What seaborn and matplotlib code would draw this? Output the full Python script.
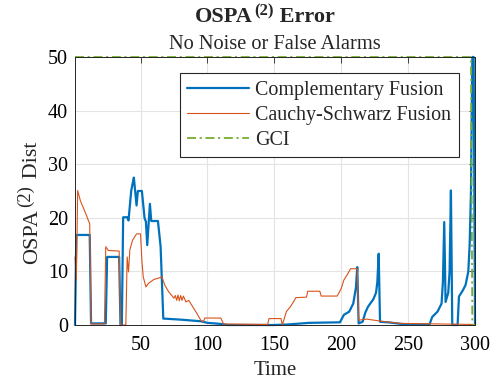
import matplotlib
matplotlib.use("Agg")
import matplotlib.pyplot as plt
from matplotlib.transforms import IdentityTransform
import seaborn as sns
import pandas as pd

# ---------------- data (breakpoints) ----------------
comp_t = [1, 2, 12, 13, 24, 25, 34, 35, 36, 37, 40, 41, 43, 44, 45, 47, 48, 51, 53, 54,
          55, 57, 58, 63, 65, 67, 80, 95, 100, 110, 115, 150, 160, 176, 199, 202, 206,
          209, 211, 212, 213, 216, 218, 220, 224, 226, 227, 228, 229, 235, 245, 250,
          266, 268, 272, 275, 276, 277, 278, 280, 281, 282, 283, 287, 288, 291, 293,
          295, 296, 297, 298, 299, 300]
comp_v = [0, 16.8, 16.8, 0.3, 0.3, 12.7, 12.7, 0, 0, 20.1, 20.1, 19.5, 25, 26.3, 27.5,
          22.3, 25, 25, 19.9, 19.3, 14.9, 22.6, 19.4, 19.4, 14.6, 1.2, 1.0, 0.7, 0.4,
          0.2, 0, 0, 0.1, 0.4, 0.5, 1.9, 2.5, 4, 7, 10.8, 0.3, 0.6, 2.3, 3.4, 4.8, 6,
          8, 13.3, 0.6, 0.5, 0.2, 0.1, 0.1, 1.5, 2.5, 4, 8, 19.2, 4.3, 6, 10, 25.1, 0,
          0, 5.3, 6.5, 7.5, 10, 15, 25, 50, 50, 0]

cs_t = [1, 2, 3, 5, 9, 11, 12, 13, 23, 24, 26, 34, 35, 39, 40, 41, 42, 44, 47, 50, 51,
        52, 54, 56, 60, 64, 66, 68, 71, 75, 76, 77, 78, 79, 80, 81, 82, 84, 86, 89, 92,
        95, 97, 98, 110, 112, 145, 146, 155, 156, 159, 162, 165, 166, 174, 175, 184,
        185, 197, 200, 202, 205, 207, 212, 213, 219, 230, 244, 272, 300]
cs_v = [12.7, 8.4, 25.1, 23.2, 20.8, 19.5, 18.9, 0.2, 0.2, 14.6, 13.9, 13.8, 0, 0, 12.7,
        9.9, 14, 15.8, 17, 17, 12, 9, 7.1, 7.8, 8.5, 8.8, 9, 7.5, 6.2, 5.0, 5.5, 4.6,
        5.6, 4.5, 5.5, 4.6, 5.4, 4.3, 4.6, 3.4, 2.2, 0.9, 0.6, 1.3, 1.3, 0.2, 0.1, 1.2,
        1.2, 0, 2.5, 3.4, 4.6, 5.1, 5.2, 6.3, 6.3, 5.4, 5.4, 6.8, 8.4, 9.6, 10.5, 10.5,
        0.9, 1.1, 0.7, 0.3, 0.2, 0.1]

gci_t = [1, 297, 298, 300]
gci_v = [50, 50, 0, 0]

labels = ["Complementary Fusion", "Cauchy-Schwarz Fusion", "GCI"]
colors = ["#0072BD", "#D95319", "#77AC30"]

x_ticks = [50, 100, 150, 200, 250, 300]
y_ticks = [0, 10, 20, 30, 40, 50]

# ---------------- style ----------------
sns.set_theme(style="white")
plt.rcParams["font.family"] = ["Liberation Serif", "DejaVu Serif"]

W, H = 496, 381
fig = plt.figure(figsize=(W / 100, H / 100), dpi=100)
ax = fig.add_axes([75 / W, 1 - 325 / H, 400 / W, 268 / H])

df_c = pd.DataFrame({"t": comp_t, "v": comp_v})
df_s = pd.DataFrame({"t": cs_t, "v": cs_v})
df_g = pd.DataFrame({"t": gci_t, "v": gci_v})

sns.lineplot(data=df_c, x="t", y="v", ax=ax, sort=False, estimator=None,
             color=colors[0], linewidth=1.6, label=labels[0])
sns.lineplot(data=df_s, x="t", y="v", ax=ax, sort=False, estimator=None,
             color=colors[1], linewidth=0.8, label=labels[1])
sns.lineplot(data=df_g, x="t", y="v", ax=ax, sort=False, estimator=None,
             color=colors[2], linewidth=1.3, label=labels[2],
             linestyle=(0, (5, 2, 1.2, 2)))
for ln in ax.lines:
    ln.set_clip_on(False)

ax.set_xlim(1, 300)
ax.set_ylim(0, 50)
ax.set_xticks(x_ticks)
ax.set_yticks(y_ticks)
ax.grid(True, color="#e3e3e3", linewidth=0.8)
ax.set_axisbelow(True)
for s in ax.spines.values():
    s.set_color("#262626")
    s.set_linewidth(0.7)
ax.tick_params(direction="in", length=4, width=0.6, colors="#262626",
               labelsize=14.5, top=True, right=True, labelcolor="black")
ax.tick_params(axis="x", pad=8)
ax.tick_params(axis="y", pad=5)
ax.set_xlabel("Time", fontsize=15, labelpad=4)
ax.set_ylabel("")

leg = ax.legend(loc="upper right", fontsize=14.4, frameon=True, fancybox=False,
                edgecolor="#262626", framealpha=1, handlelength=3.1,
                handletextpad=0.3, borderpad=0.38, labelspacing=0.3,
                borderaxespad=0.8)
leg.get_frame().set_linewidth(0.8)

renderer = fig.canvas.get_renderer()
ident = IdentityTransform()


def text_width(s, size, weight="normal"):
    t = fig.text(0, 0, s, fontsize=size, fontweight=weight, transform=ident)
    w = t.get_window_extent(renderer).width
    t.remove()
    return w


# Title: bold "OSPA" + superscript "(2)" + " Error"
title_pieces = [("OSPA", 16, 0, 1), ("(2)", 12, 7, 0), (" Error", 16, 0, 0)]
widths = [text_width(s, sz, "bold") + gap for s, sz, _, gap in title_pieces]
x = 265 - sum(widths) / 2
for (s, sz, rise, gap), w in zip(title_pieces, widths):
    fig.text(x, H - 22 + rise, s, fontsize=sz, fontweight="bold", transform=ident,
             ha="left", va="baseline")
    x += w
fig.text((75 + 475) / 2, H - 49, "No Noise or False Alarms", fontsize=14.7,
         transform=ident, ha="center", va="baseline")

# Y label: "OSPA" + superscript "(2)" + " Dist", rotated, centred near y=203 px
ylab_pieces = [("OSPA", 16, 0, 2), ("(2)", 13.5, 7, 1), (" Dist", 16, 0, 0)]
widths = [text_width(s, sz) + gap for s, sz, _, gap in ylab_pieces]
y = H - 203 - sum(widths) / 2
bx = 37
for (s, sz, rise, gap), w in zip(ylab_pieces, widths):
    fig.text(bx - rise, y, s, fontsize=sz, rotation=90, rotation_mode="anchor",
             transform=ident, ha="left", va="baseline")
    y += w

fig.savefig("out.png", dpi=100)
